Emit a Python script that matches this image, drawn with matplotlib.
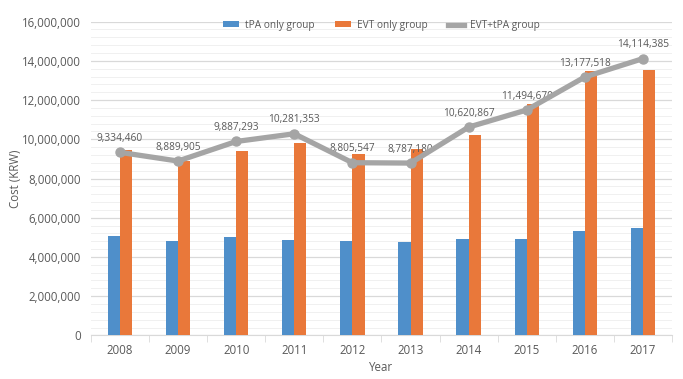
import numpy as np
import matplotlib.pyplot as plt
from matplotlib.lines import Line2D
from matplotlib.ticker import FuncFormatter, MultipleLocator

plt.rcParams['font.family'] = ['Open Sans', 'DejaVu Sans']

years = ['2008', '2009', '2010', '2011', '2012', '2013', '2014', '2015', '2016', '2017']
tpa_only = [5090000, 4820000, 5030000, 4890000, 4820000, 4770000, 4930000, 4930000, 5330000, 5490000]
evt_only = [9440000, 8910000, 9400000, 9810000, 9270000, 9490000, 10220000, 11820000, 13460000, 13540000]
evt_tpa = [9334460, 8889905, 9887293, 10281353, 8805547, 8787180, 10620867, 11494670, 13177518, 14114385]

text_col = '#595959'
grid_col = '#d9d9d9'
line_col = '#a5a5a5'

fig = plt.figure(figsize=(6.83, 3.79), dpi=100)
ax = fig.add_axes([0.133, 0.115, 0.851, 0.828])

x = np.arange(len(years))
w = 0.21
b1 = ax.bar(x - w / 2, tpa_only, w, color='#4f8fca', zorder=3)
b2 = ax.bar(x + w / 2, evt_only, w, color='#e9783a', zorder=3)
ax.plot(x, evt_tpa, color=line_col, lw=3.8, marker='o', ms=6.5, zorder=4)

for xi, v in zip(x, evt_tpa):
    ax.annotate(f'{v:,}', (xi, v), xytext=(0, 6), textcoords='offset points',
                ha='center', va='bottom', fontsize=7.3, color=text_col)

ax.set_xlim(-0.5, len(years) - 0.5)
ax.set_ylim(0, 16000000)
ax.yaxis.set_major_locator(MultipleLocator(2000000))
ax.yaxis.set_minor_locator(MultipleLocator(400000))
ax.yaxis.set_major_formatter(FuncFormatter(lambda v, p: f'{int(v):,}'))
ax.grid(axis='y', which='major', color=grid_col, lw=0.9, zorder=0)
ax.grid(axis='y', which='minor', color='#f0f0f0', lw=0.7, zorder=0)

ax.set_xticks(x)
ax.set_xticklabels(years)
ax.set_xticks(np.arange(len(years) + 1) - 0.5, minor=True)
ax.tick_params(axis='x', which='major', length=0, pad=6, labelsize=8.3, labelcolor=text_col)
ax.tick_params(axis='x', which='minor', length=5, color=grid_col)
ax.tick_params(axis='y', which='both', length=0, pad=7, labelsize=8.3, labelcolor=text_col)

for s in ['top', 'right', 'left']:
    ax.spines[s].set_visible(False)
ax.spines['bottom'].set_color(grid_col)

ax.set_xlabel('Year', fontsize=8.3, color=text_col, labelpad=3)
ax.set_ylabel('Cost (KRW)', fontsize=8.3, color=text_col)
ax.yaxis.set_label_coords(-0.118, 0.5)

# legend line without marker, like the original
ln_proxy = Line2D([], [], color=line_col, lw=3.8)
ax.legend([b1, b2, ln_proxy], ['tPA only group', 'EVT only group', 'EVT+tPA group'],
          loc='upper center', bbox_to_anchor=(0.5, 1.035), ncol=3, frameon=False,
          fontsize=7.3, labelcolor=text_col, handlelength=1.6, handleheight=0.5,
          columnspacing=2.0, handletextpad=0.6)

fig.savefig('out.png', dpi=100)
